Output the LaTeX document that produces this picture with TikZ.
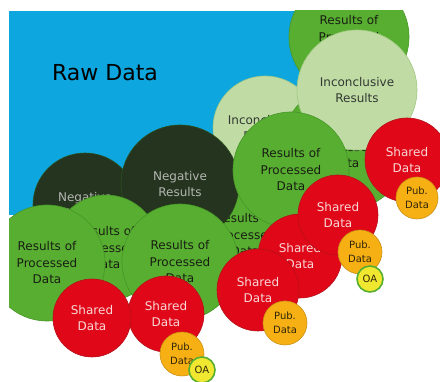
\documentclass[tikz,border=0pt]{standalone}
\usepackage{fontspec}
\setmainfont{DejaVu Sans}
\definecolor{rawblue}{RGB}{14,166,222}
\definecolor{midgreen}{RGB}{88,174,48}
\definecolor{midgreenB}{RGB}{70,150,40}
\definecolor{lightgreen}{RGB}{192,220,164}
\definecolor{lightgreenB}{RGB}{160,200,130}
\definecolor{darkgreen}{RGB}{37,52,31}
\definecolor{darkgreenB}{RGB}{40,80,30}
\definecolor{redfill}{RGB}{224,8,24}
\definecolor{redB}{RGB}{180,16,26}
\definecolor{orangefill}{RGB}{246,176,20}
\definecolor{orangeB}{RGB}{200,145,20}
\definecolor{oayellow}{RGB}{240,232,48}
\definecolor{txtdark}{RGB}{25,30,20}
\definecolor{txtgray}{RGB}{50,55,50}
\definecolor{txtlight}{RGB}{180,182,178}
\definecolor{pinktxt}{RGB}{248,215,215}
\definecolor{browntxt}{RGB}{50,38,10}
\tikzset{
  bub/.style={circle, draw, line width=0.6pt, inner sep=0pt, align=center,
    font=\fontsize{12}{16.5}\selectfont},
  rad/.style={minimum size={#1*2pt}},
  midg/.style={bub, fill=midgreen, draw=midgreenB, text=txtdark},
  lightg/.style={bub, fill=lightgreen, draw=lightgreenB, text=txtgray},
  darkg/.style={bub, fill=darkgreen, draw=darkgreenB, text=txtlight},
  redc/.style={bub, fill=redfill, draw=redB, text=pinktxt},
  pubc/.style={bub, fill=orangefill, draw=orangeB, text=browntxt,
    font=\fontsize{10}{14}\selectfont},
  oac/.style={bub, fill=oayellow, draw=midgreen, line width=1.6pt, text=browntxt,
    font=\fontsize{10}{12}\selectfont},
  rawbox/.style={rectangle, fill=rawblue, draw=none, inner sep=0pt},
  rawlbl/.style={text=black, font=\fontsize{22}{26}\selectfont}
}
\begin{document}
\begin{tikzpicture}[x=1pt,y=-1pt]
\useasboundingbox (0,0) rectangle (440,382);
\clip (9,11) rectangle (440,382);
\node[rawbox, minimum width=306pt, minimum height=204pt] (raw) at (162,113) {};
\node[rawlbl] (rawtext) at (105,73) {Raw Data};
% upper green / light green
\node[midg, rad=60] (rpTop) at (349,37) {Results of\\Processed\\Data};
\node[lightg, rad=52] (incL) at (265,128) {Inconclusive\\Results};
\node[midg, rad=63] (rpRight) at (345,147) {Results of\\Processed\\Data};
\node[lightg, rad=60] (incR) at (357,90) {Inconclusive\\Results};
% results behind, negative
\node[midg, rad=55] (rpBehind) at (245,235) {Results of\\Processed\\Data};
\node[darkg, rad=52] (negL) at (85,205) {Negative\\Results};
\node[darkg, rad=59] (negM) at (180,184) {Negative\\Results};
% results
\node[midg, rad=58] (rpMid) at (291,170) {Results of\\Processed\\Data};
\node[midg, rad=53] (rpBehindL) at (106,248) {Results of\\Processed\\Data};
\node[midg, rad=58] (rpLeft) at (47,263) {Results of\\Processed\\Data};
\node[midg, rad=58] (rpBot) at (180,262) {Results of\\Processed\\Data};
% shared data
\node[redc, rad=42] (sdFar) at (407,160) {Shared\\Data};
\node[pubc, rad=21] (pubFar) at (417,198) {Pub.\\Data};
\node[redc, rad=42] (sdMid) at (300,256) {Shared\\Data};
\node[redc, rad=40] (sdRight) at (338,215) {Shared\\Data};
\node[pubc, rad=22] (pubRight) at (360,252) {Pub.\\Data};
\node[oac, rad=13] (oaRight) at (370,279) {OA};
\node[redc, rad=41] (sdLow) at (258,290) {Shared\\Data};
\node[pubc, rad=22] (pubLow) at (285,323) {Pub.\\Data};
\node[redc, rad=38] (sdBot) at (166,314) {Shared\\Data};
\node[redc, rad=39] (sdLeft) at (92,318) {Shared\\Data};
\node[pubc, rad=22] (pubBot) at (182,354) {Pub.\\Data};
\node[oac, rad=13] (oaBot) at (202,370) {OA};
\end{tikzpicture}
\end{document}
